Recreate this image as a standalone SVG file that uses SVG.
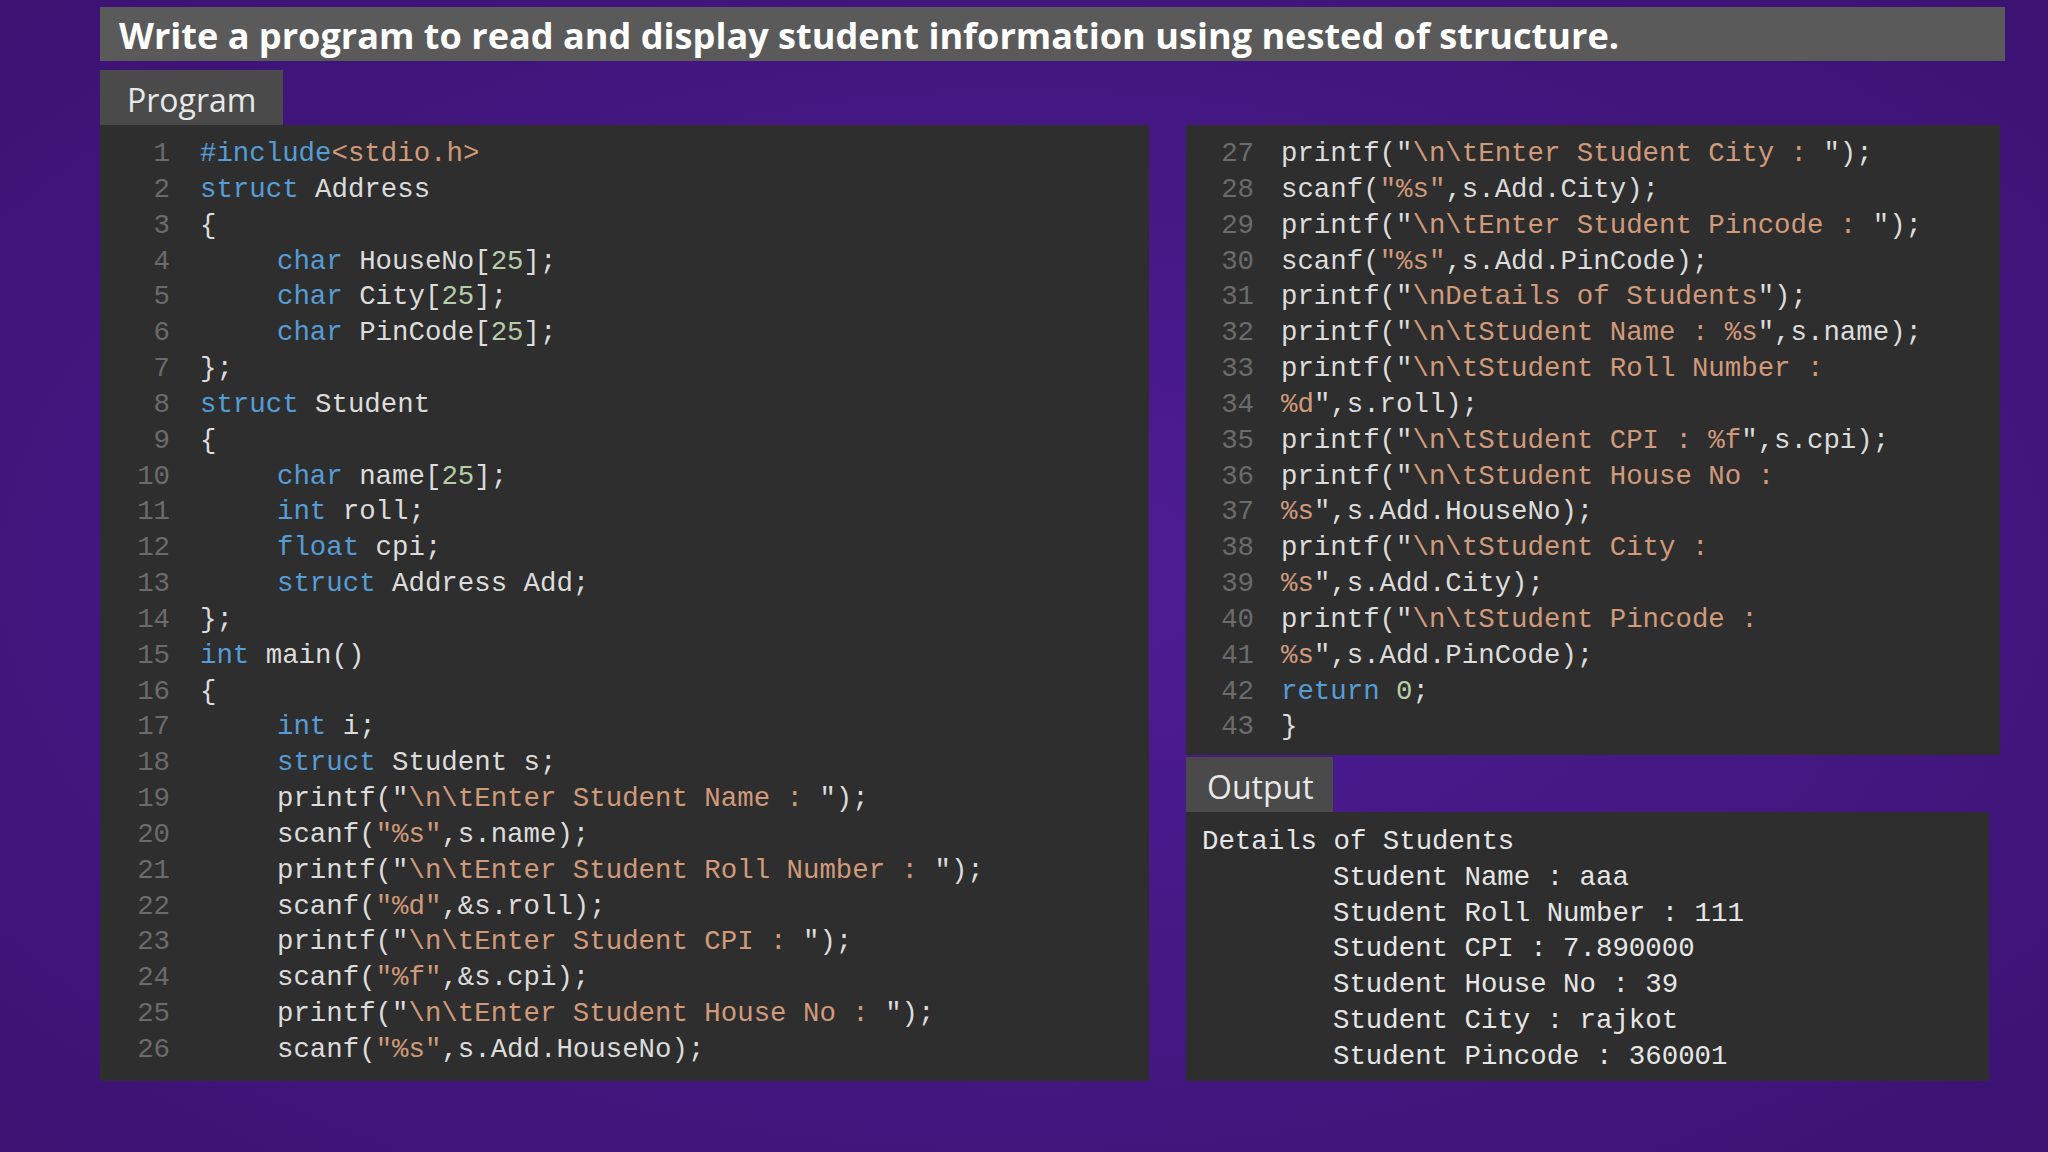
<svg xmlns="http://www.w3.org/2000/svg" width="2048" height="1152" viewBox="0 0 2048 1152">
<style>
.c{font-family:"Liberation Mono","DejaVu Sans Mono",monospace;font-size:27.4px;fill:#dcdcdc;white-space:pre}
.n{font-family:"Liberation Mono","DejaVu Sans Mono",monospace;font-size:27.4px;fill:#6b6b6b;text-anchor:end}
.k{fill:#569cd6}.s{fill:#d19a7a}.d{fill:#b5cea8}
.tab{font-family:"Open Sans","Noto Sans",sans-serif;font-size:32px;fill:#e8e8e8}
</style>
<defs>
<radialGradient id="bg" cx="50%" cy="50%" r="75%">
<stop offset="0" stop-color="#4f1d96"/><stop offset="1" stop-color="#3a1270"/>
</radialGradient>
</defs>
<rect width="2048" height="1152" fill="url(#bg)"/>
<g id="title">
<rect x="100" y="7" width="1905" height="54" fill="#5a5a5a"/>
<text x="119" y="49" font-family="Open Sans,Noto Sans,sans-serif" font-weight="bold" font-size="36" fill="#ffffff" textLength="1500" lengthAdjust="spacingAndGlyphs">Write a program to read and display student information using nested of structure.</text>
</g>
<g id="program-tab">
<rect x="100" y="70" width="183" height="56" fill="#4a4a4a"/>
<text class="tab" x="127" y="112">Program</text>
</g>
<g id="left-code">
<rect x="100" y="125" width="1049" height="956" fill="#2e2e2e"/>
<g class="n">
<text x="170" y="161">1</text><text x="170" y="197">2</text><text x="170" y="233">3</text><text x="170" y="269">4</text><text x="170" y="304">5</text><text x="170" y="340">6</text><text x="170" y="376">7</text><text x="170" y="412">8</text><text x="170" y="448">9</text><text x="170" y="484">10</text><text x="170" y="519">11</text><text x="170" y="555">12</text><text x="170" y="591">13</text><text x="170" y="627">14</text><text x="170" y="663">15</text><text x="170" y="699">16</text><text x="170" y="734">17</text><text x="170" y="770">18</text><text x="170" y="806">19</text><text x="170" y="842">20</text><text x="170" y="878">21</text><text x="170" y="914">22</text><text x="170" y="949">23</text><text x="170" y="985">24</text><text x="170" y="1021">25</text><text x="170" y="1057">26</text>
</g>
<g class="c" xml:space="preserve">
<text x="200" y="161"><tspan class="k">#include</tspan><tspan class="s">&lt;stdio.h&gt;</tspan></text>
<text x="200" y="197"><tspan class="k">struct</tspan> Address</text>
<text x="200" y="233">{</text>
<text x="277" y="269"><tspan class="k">char</tspan> HouseNo[<tspan class="d">25</tspan>];</text>
<text x="277" y="304"><tspan class="k">char</tspan> City[<tspan class="d">25</tspan>];</text>
<text x="277" y="340"><tspan class="k">char</tspan> PinCode[<tspan class="d">25</tspan>];</text>
<text x="200" y="376">};</text>
<text x="200" y="412"><tspan class="k">struct</tspan> Student</text>
<text x="200" y="448">{</text>
<text x="277" y="484"><tspan class="k">char</tspan> name[<tspan class="d">25</tspan>];</text>
<text x="277" y="519"><tspan class="k">int</tspan> roll;</text>
<text x="277" y="555"><tspan class="k">float</tspan> cpi;</text>
<text x="277" y="591"><tspan class="k">struct</tspan> Address Add;</text>
<text x="200" y="627">};</text>
<text x="200" y="663"><tspan class="k">int</tspan> main()</text>
<text x="200" y="699">{</text>
<text x="277" y="734"><tspan class="k">int</tspan> i;</text>
<text x="277" y="770"><tspan class="k">struct</tspan> Student s;</text>
<text x="277" y="806">printf("<tspan class="s">\n\tEnter Student Name : </tspan>");</text>
<text x="277" y="842">scanf(<tspan class="s">"%s"</tspan>,s.name);</text>
<text x="277" y="878">printf("<tspan class="s">\n\tEnter Student Roll Number : </tspan>");</text>
<text x="277" y="914">scanf(<tspan class="s">"%d"</tspan>,&amp;s.roll);</text>
<text x="277" y="949">printf("<tspan class="s">\n\tEnter Student CPI : </tspan>");</text>
<text x="277" y="985">scanf(<tspan class="s">"%f"</tspan>,&amp;s.cpi);</text>
<text x="277" y="1021">printf("<tspan class="s">\n\tEnter Student House No : </tspan>");</text>
<text x="277" y="1057">scanf(<tspan class="s">"%s"</tspan>,s.Add.HouseNo);</text>
</g>
</g>
<g id="right-code">
<rect x="1186" y="125" width="814" height="630" fill="#2e2e2e"/>
<g class="n">
<text x="1254" y="161">27</text><text x="1254" y="197">28</text><text x="1254" y="233">29</text><text x="1254" y="269">30</text><text x="1254" y="304">31</text><text x="1254" y="340">32</text><text x="1254" y="376">33</text><text x="1254" y="412">34</text><text x="1254" y="448">35</text><text x="1254" y="484">36</text><text x="1254" y="519">37</text><text x="1254" y="555">38</text><text x="1254" y="591">39</text><text x="1254" y="627">40</text><text x="1254" y="663">41</text><text x="1254" y="699">42</text><text x="1254" y="734">43</text>
</g>
<g class="c" xml:space="preserve">
<text x="1281" y="161">printf("<tspan class="s">\n\tEnter Student City : </tspan>");</text>
<text x="1281" y="197">scanf(<tspan class="s">"%s"</tspan>,s.Add.City);</text>
<text x="1281" y="233">printf("<tspan class="s">\n\tEnter Student Pincode : </tspan>");</text>
<text x="1281" y="269">scanf(<tspan class="s">"%s"</tspan>,s.Add.PinCode);</text>
<text x="1281" y="304">printf("<tspan class="s">\nDetails of Students</tspan>");</text>
<text x="1281" y="340">printf("<tspan class="s">\n\tStudent Name : %s</tspan>",s.name);</text>
<text x="1281" y="376">printf("<tspan class="s">\n\tStudent Roll Number :</tspan></text>
<text x="1281" y="412"><tspan class="s">%d</tspan>",s.roll);</text>
<text x="1281" y="448">printf("<tspan class="s">\n\tStudent CPI : %f</tspan>",s.cpi);</text>
<text x="1281" y="484">printf("<tspan class="s">\n\tStudent House No :</tspan></text>
<text x="1281" y="519"><tspan class="s">%s</tspan>",s.Add.HouseNo);</text>
<text x="1281" y="555">printf("<tspan class="s">\n\tStudent City :</tspan></text>
<text x="1281" y="591"><tspan class="s">%s</tspan>",s.Add.City);</text>
<text x="1281" y="627">printf("<tspan class="s">\n\tStudent Pincode :</tspan></text>
<text x="1281" y="663"><tspan class="s">%s</tspan>",s.Add.PinCode);</text>
<text x="1281" y="699"><tspan class="k">return</tspan> <tspan class="d">0</tspan>;</text>
<text x="1281" y="734">}</text>
</g>
</g>
<g id="output-tab">
<rect x="1186" y="757" width="147" height="56" fill="#4a4a4a"/>
<text class="tab" x="1207" y="799">Output</text>
</g>
<g id="output">
<rect x="1186" y="812" width="803" height="269" fill="#2e2e2e"/>
<g class="c" style="fill:#e6e6e6" xml:space="preserve">
<text x="1202" y="849">Details of Students</text>
<text x="1333" y="885">Student Name : aaa</text>
<text x="1333" y="921">Student Roll Number : 111</text>
<text x="1333" y="956">Student CPI : 7.890000</text>
<text x="1333" y="992">Student House No : 39</text>
<text x="1333" y="1028">Student City : rajkot</text>
<text x="1333" y="1064">Student Pincode : 360001</text>
</g>
</g>
</svg>
